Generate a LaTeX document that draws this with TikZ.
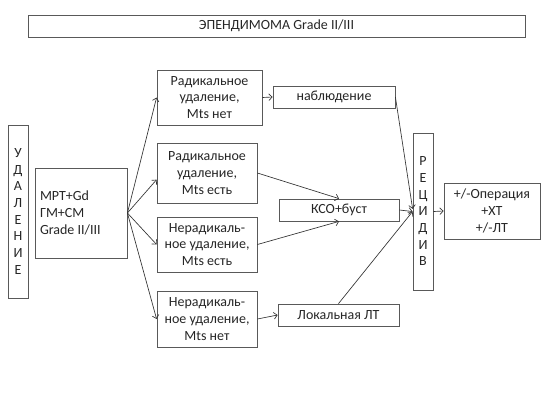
\documentclass[tikz,border=0pt]{standalone}
\usepackage{fontspec}
\setmainfont{Carlito}
\usetikzlibrary{positioning, arrows.meta}

\begin{document}
\begin{tikzpicture}[
    x=0.75pt, y=-0.75pt,
    every node/.style = {draw=black!65, line width=0.6pt, inner sep=0pt, align=center,
                         text=black!85, font=\fontsize{10.5}{12.5}\selectfont},
    strip/.style  = {minimum height=16.5pt},
    column/.style = {minimum width=15pt},
    branch/.style = {minimum width=75pt},
    >={Straight Barb[length=2.5pt, width=5pt]}
]
\useasboundingbox (0,0) rectangle (553,415);

% title
\node[strip, minimum width=372.75pt] (title) at (276.5, 26) {ЭПЕНДИМОМА Grade II/III};

% start
\node[column, minimum height=129.75pt] (udal) at (18, 211.5) {У\\Д\\А\\Л\\Е\\Н\\И\\Е};
\node[minimum width=69pt, minimum height=67.5pt, align=flush left, text width=61.5pt]
    (mrt) at (81, 213) {МРТ+Gd\\ГМ+СМ\\Grade II/III};

% surgery outcomes
\node[minimum width=78.75pt, minimum height=41.25pt] (r1) at (209.5, 97.5) {Радикальное\\удаление,\\Mts нет};
\node[branch, minimum height=45pt]    (r2) at (207, 173)   {Радикальное\\удаление,\\Mts есть};
\node[branch, minimum height=41.25pt] (n1) at (207, 244.5) {Нерадикаль-\\ное удаление,\\Mts есть};
\node[branch, minimum height=42pt]    (n2) at (207, 319)   {Нерадикаль-\\ное удаление,\\Mts нет};

% treatment
\node[strip, minimum width=91.5pt]  (nabl) at (334, 97)    {наблюдение};
\node[strip, minimum width=90pt]    (kso)  at (339, 210)   {КСО+буст};
\node[strip, minimum width=90.75pt] (lok)  at (338.5, 315) {Локальная ЛТ};

% relapse
\node[column, minimum height=117.75pt] (recid) at (423, 211.5) {Р\\Е\\Ц\\И\\Д\\И\\В};
\node[minimum width=72pt, minimum height=42pt] (out) at (492, 211) {+/-Операция\\+ХТ\\+/-ЛТ};

% connections
\begin{scope}[black!80, line width=0.5pt]
\draw[->] (mrt.east) -- (r1.west);
\draw[->] (mrt.east) -- ([yshift=-5pt]r2.west);
\draw[->] (mrt.east) -- (n1.west);
\draw[->] (mrt.east) -- (n2.west);

\draw[->] (r1.east) -- (nabl.west);
\draw[->] (r2.east) -- (kso.north);
\draw[->] (n1.east) -- (kso.south);
\draw[->] (n2.east) -- (lok.west);

\draw[->] (nabl.east) -- ([yshift=2pt]recid.west);
\draw[->] (kso.east)  -- (recid.west);
\draw[->] (lok.north) -- (recid.west);

\draw[->] (recid.east) -- (out.west);
\end{scope}

\end{tikzpicture}
\end{document}
